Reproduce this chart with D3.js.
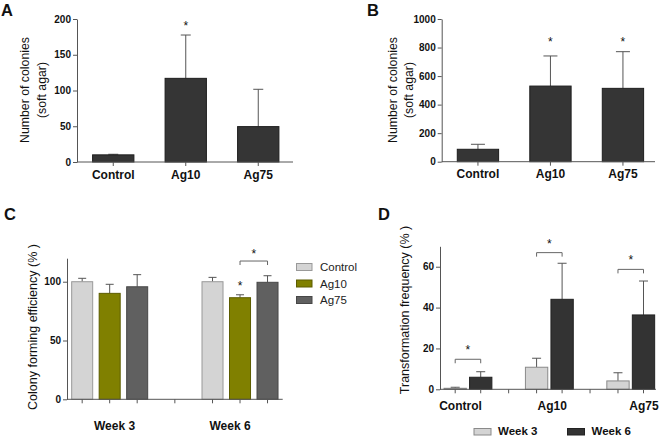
<!DOCTYPE html>
<html><head><meta charset="utf-8">
<script src="https://cdn.jsdelivr.net/npm/d3@7"></script>
<style>
html,body{margin:0;padding:0;background:#fff;}
svg{display:block;font-family:"Liberation Sans",Arial,sans-serif;}
</style></head>
<body><svg id="chart" width="660" height="437"></svg>
<script>
// ---------- DATA ----------
const catsAB = ["Control", "Ag10", "Ag75"];
// Panel A
const aMeans = [10, 117, 49.5];
const aTops  = [10.8, 177.6, 101.7];
const aStar  = [null, 195, null];
const aTicks = [0, 50, 100, 150, 200];
// Panel B
const bMeans = [87, 530, 514];
const bTops  = [122, 741, 771];
const bStar  = [null, 860, 860];
const bTicks = [0, 200, 400, 600, 800, 1000];
// Panel C
const cGroups = ["Week 3", "Week 6"];
const cSeries = ["Control", "Ag10", "Ag75"];
const cMeans = [[100, 90.1, 95.7], [100, 86.4, 99.5]];
const cTops  = [[102.9, 97.8, 106], [103.7, 88.9, 105.1]];
const cStar  = [[null, null, null], [null, 98.7, null]];
const cTicks = [0, 50, 100];
// bracket: group, from series, to series, bracket value, star value
const cBrackets = [{g: "Week 6", a: "Ag10", b: "Ag75", v: 117.6, s: 126.4}];
// Panel D
const dGroups = ["Control", "Ag10", "Ag75"];
const dSeries = ["Week 3", "Week 6"];
const dMeans = [[0.5, 5.9], [10.8, 44.05], [4.1, 36.4]];
const dTops  = [[1, 8.6], [15.2, 61.7], [8.1, 53]];
const dTicks = [0, 20, 40, 60];
const dBrackets = [
  {g: "Control", v: 14.7, s: 20.9},
  {g: "Ag10", v: 66.9, s: 72.7},
  {g: "Ag75", v: 58.7, s: 64.6}
];

// ---------- STYLE ----------
const AX = "#555";
const ERR = "#555";
const cFill = {"Control": "#d4d4d4", "Ag10": "#808000", "Ag75": "#606060"};
const cStroke = {"Control": "#999", "Ag10": "#5c5c00", "Ag75": "#474747"};
const dFill = {"Week 3": "#d4d4d4", "Week 6": "#333333"};
const dStroke = {"Week 3": "#8a8a8a", "Week 6": "#222"};

const svg = d3.select("#chart");

function yAxis(g, y, ticks, x0) {
  const ax = g.append("g").attr("transform", `translate(${x0},0)`)
    .call(d3.axisLeft(y).tickValues(ticks).tickFormat(d3.format("d")).tickSize(4).tickPadding(2).tickSizeOuter(0));
  ax.select(".domain").attr("stroke", AX);
  ax.selectAll(".tick line").attr("stroke", AX);
  ax.selectAll(".tick text").attr("font-size", 10).attr("font-weight", "bold")
    .attr("fill", "#111").attr("font-family", "Liberation Sans, Arial, sans-serif");
}
function xLine(g, x0, x1, y0) {
  g.append("line").attr("x1", x0).attr("x2", x1).attr("y1", y0).attr("y2", y0)
    .attr("stroke", AX).attr("stroke-width", 1);
}
function xTick(g, x, y0) {
  g.append("line").attr("x1", x).attr("x2", x).attr("y1", y0).attr("y2", y0 + 4)
    .attr("stroke", AX).attr("stroke-width", 1);
}
function errBar(g, cx, yTop, yBase, cap) {
  g.append("line").attr("x1", cx).attr("x2", cx).attr("y1", yBase).attr("y2", yTop)
    .attr("stroke", ERR).attr("stroke-width", 1);
  g.append("line").attr("x1", cx - cap / 2).attr("x2", cx + cap / 2).attr("y1", yTop).attr("y2", yTop)
    .attr("stroke", ERR).attr("stroke-width", 1);
}
function star(g, cx, cy) {
  g.append("text").attr("x", cx).attr("y", cy + 7).attr("text-anchor", "middle")
    .attr("font-size", 12).attr("fill", "#111").text("*");
}
function ytitle(g, lines, cx, cy, size) {
  const t = g.append("text").attr("transform", `translate(${cx},${cy}) rotate(-90)`)
    .attr("text-anchor", "middle").attr("font-size", size).attr("fill", "#111");
  lines.forEach((l, i) => t.append("tspan").attr("x", 0).attr("dy", i === 0 ? 0 : 16.5).text(l));
}
function letter(txt, x, y) {
  svg.append("text").attr("x", x).attr("y", y).attr("font-size", 16.5).attr("font-weight", "bold")
    .attr("fill", "#111").text(txt);
}

// ---------- PANEL A / B ----------
function panelAB(means, tops, stars, ticks, ymax, cfg) {
  const g = svg.append("g");
  const y = d3.scaleLinear().domain([0, ymax]).range([cfg.y0, cfg.y1]);
  const x = d3.scaleBand().domain(catsAB).range([cfg.x0, cfg.x0 + 217.5])
    .paddingInner(0.43).paddingOuter(0.215);
  catsAB.forEach((c, i) => {
    const cx = x(c) + x.bandwidth() / 2;
    errBar(g, cx, y(tops[i]), y(means[i]), cfg.cap);
    g.append("rect").attr("x", x(c)).attr("y", y(means[i])).attr("width", x.bandwidth())
      .attr("height", y(0) - y(means[i])).attr("fill", "#353535").attr("stroke", "#1e1e1e").attr("stroke-width", 1);
    if (stars[i] != null) star(g, cx, y(stars[i]));
  });
  xLine(g, cfg.x0, cfg.xEnd, y(0));
  catsAB.forEach(c => {
    const cx = x(c) + x.bandwidth() / 2;
    xTick(g, cx, y(0));
    g.append("text").attr("x", cx).attr("y", y(0) + 16.5).attr("text-anchor", "middle")
      .attr("font-size", 12).attr("font-weight", "bold").attr("fill", "#111").text(c);
  });
  yAxis(g, y, ticks, cfg.x0);
  ytitle(g, ["Number of colonies", "(soft agar)"], cfg.tx, cfg.ty, 12.3);
}
panelAB(aMeans, aTops, aStar, aTicks, 200, {x0: 77, xEnd: 293, y0: 162, y1: 19, cap: 10, tx: 29, ty: 90});
panelAB(bMeans, bTops, bStar, bTicks, 1000, {x0: 441.7, xEnd: 655, y0: 161.7, y1: 19, cap: 14, tx: 396.5, ty: 90});
letter("A", 1, 15.5);
letter("B", 367, 15.5);

// ---------- PANEL C ----------
(function () {
  const g = svg.append("g");
  const y = d3.scaleLinear().domain([0, 120]).range([399.3, 258.2]);
  const xg = d3.scaleBand().domain(cGroups).range([67, 282.7]).paddingInner(0.367).paddingOuter(0.011);
  const xs = d3.scaleBand().domain(cSeries).range([0, xg.bandwidth()]).paddingInner(0.236).paddingOuter(0.118);
  const lab = d3.scalePoint().domain(cGroups).range([114.5, 230]);
  cGroups.forEach((grp, gi) => {
    cSeries.forEach((s, si) => {
      const bx = xg(grp) + xs(s), cx = bx + xs.bandwidth() / 2;
      errBar(g, cx, y(cTops[gi][si]), y(cMeans[gi][si]), 8);
      g.append("rect").attr("x", bx).attr("y", y(cMeans[gi][si])).attr("width", xs.bandwidth())
        .attr("height", y(0) - y(cMeans[gi][si])).attr("fill", cFill[s]).attr("stroke", cStroke[s]).attr("stroke-width", 1);
      if (cStar[gi][si] != null) star(g, cx, y(cStar[gi][si]));
    });
  });
  xLine(g, 67, 282.7, y(0));
  cGroups.forEach(grp => cSeries.forEach(s => xTick(g, xg(grp) + xs(s) + xs.bandwidth() / 2, y(0))));
  // gap tick between groups
  const lastW3 = xg(cGroups[0]) + xs(cSeries[2]) + xs.bandwidth() / 2;
  const firstW6 = xg(cGroups[1]) + xs(cSeries[0]) + xs.bandwidth() / 2;
  xTick(g, (lastW3 + firstW6) / 2, y(0));
  cGroups.forEach(grp => g.append("text").attr("x", lab(grp)).attr("y", y(0) + 31)
    .attr("text-anchor", "middle").attr("font-size", 12).attr("font-weight", "bold").attr("fill", "#111").text(grp));
  cBrackets.forEach(b => {
    const xa = xg(b.g) + xs(b.a) + xs.bandwidth() / 2, xb = xg(b.g) + xs(b.b) + xs.bandwidth() / 2;
    const by = y(b.v);
    g.append("path").attr("d", `M${xa},${by + 4}V${by}H${xb}V${by + 4}`).attr("fill", "none").attr("stroke", "#666");
    star(g, (xa + xb) / 2, y(b.s));
  });
  yAxis(g, y, cTicks, 67);
  ytitle(g, ["Colony forming efficiency (% )"], 37, 327, 12.5);
  // legend
  cSeries.forEach((s, i) => {
    const ly = 267 + i * 16.5;
    g.append("rect").attr("x", 296.5).attr("y", ly - 3.5).attr("width", 15.5).attr("height", 7)
      .attr("fill", cFill[s]).attr("stroke", cStroke[s]);
    g.append("text").attr("x", 320).attr("y", ly + 4).attr("font-size", 11.5).attr("fill", "#222").text(s);
  });
})();
letter("C", 4, 219.5);

// ---------- PANEL D ----------
(function () {
  const g = svg.append("g");
  const y = d3.scaleLinear().domain([0, 70]).range([389.3, 246.3]);
  const xg = d3.scaleBand().domain(dGroups).range([440, 658.7]).paddingInner(0.373).paddingOuter(0.03);
  const xs = d3.scaleBand().domain(dSeries).range([0, xg.bandwidth()]).paddingInner(0.125).paddingOuter(0.0625);
  const lab = d3.scalePoint().domain(dGroups).range([460.5, 644]);
  dGroups.forEach((grp, gi) => {
    dSeries.forEach((s, si) => {
      const bx = xg(grp) + xs(s), cx = bx + xs.bandwidth() / 2;
      errBar(g, cx, y(dTops[gi][si]), y(dMeans[gi][si]), 9);
      g.append("rect").attr("x", bx).attr("y", y(dMeans[gi][si])).attr("width", xs.bandwidth())
        .attr("height", y(0) - y(dMeans[gi][si])).attr("fill", dFill[s]).attr("stroke", dStroke[s]).attr("stroke-width", 1);
    });
  });
  xLine(g, 440, 656, y(0));
  const centers = dGroups.map(grp => dSeries.map(s => xg(grp) + xs(s) + xs.bandwidth() / 2));
  centers.forEach(cs => cs.forEach(cx => xTick(g, cx, y(0))));
  for (let i = 0; i < centers.length - 1; i++) xTick(g, (centers[i][1] + centers[i + 1][0]) / 2, y(0));
  dGroups.forEach(grp => g.append("text").attr("x", lab(grp)).attr("y", y(0) + 20.5)
    .attr("text-anchor", "middle").attr("font-size", 12).attr("font-weight", "bold").attr("fill", "#111").text(grp));
  dBrackets.forEach(b => {
    const i = dGroups.indexOf(b.g);
    const xa = centers[i][0], xb = centers[i][1], by = y(b.v);
    g.append("path").attr("d", `M${xa},${by + 4}V${by}H${xb}V${by + 4}`).attr("fill", "none").attr("stroke", "#666");
    star(g, (xa + xb) / 2, y(b.s));
  });
  yAxis(g, y, dTicks, 440);
  ytitle(g, ["Transformation frequency (% )"], 409, 310, 12.5);
  // legend
  const lx = [474, 567.5];
  dSeries.forEach((s, i) => {
    g.append("rect").attr("x", lx[i]).attr("y", 428.5).attr("width", 17).attr("height", 6.5)
      .attr("fill", dFill[s]).attr("stroke", dStroke[s]);
    g.append("text").attr("x", lx[i] + 24).attr("y", 434.5).attr("font-size", 11.5).attr("font-weight", "bold")
      .attr("fill", "#111").text(s);
  });
})();
letter("D", 378, 219.5);
</script></body></html>
